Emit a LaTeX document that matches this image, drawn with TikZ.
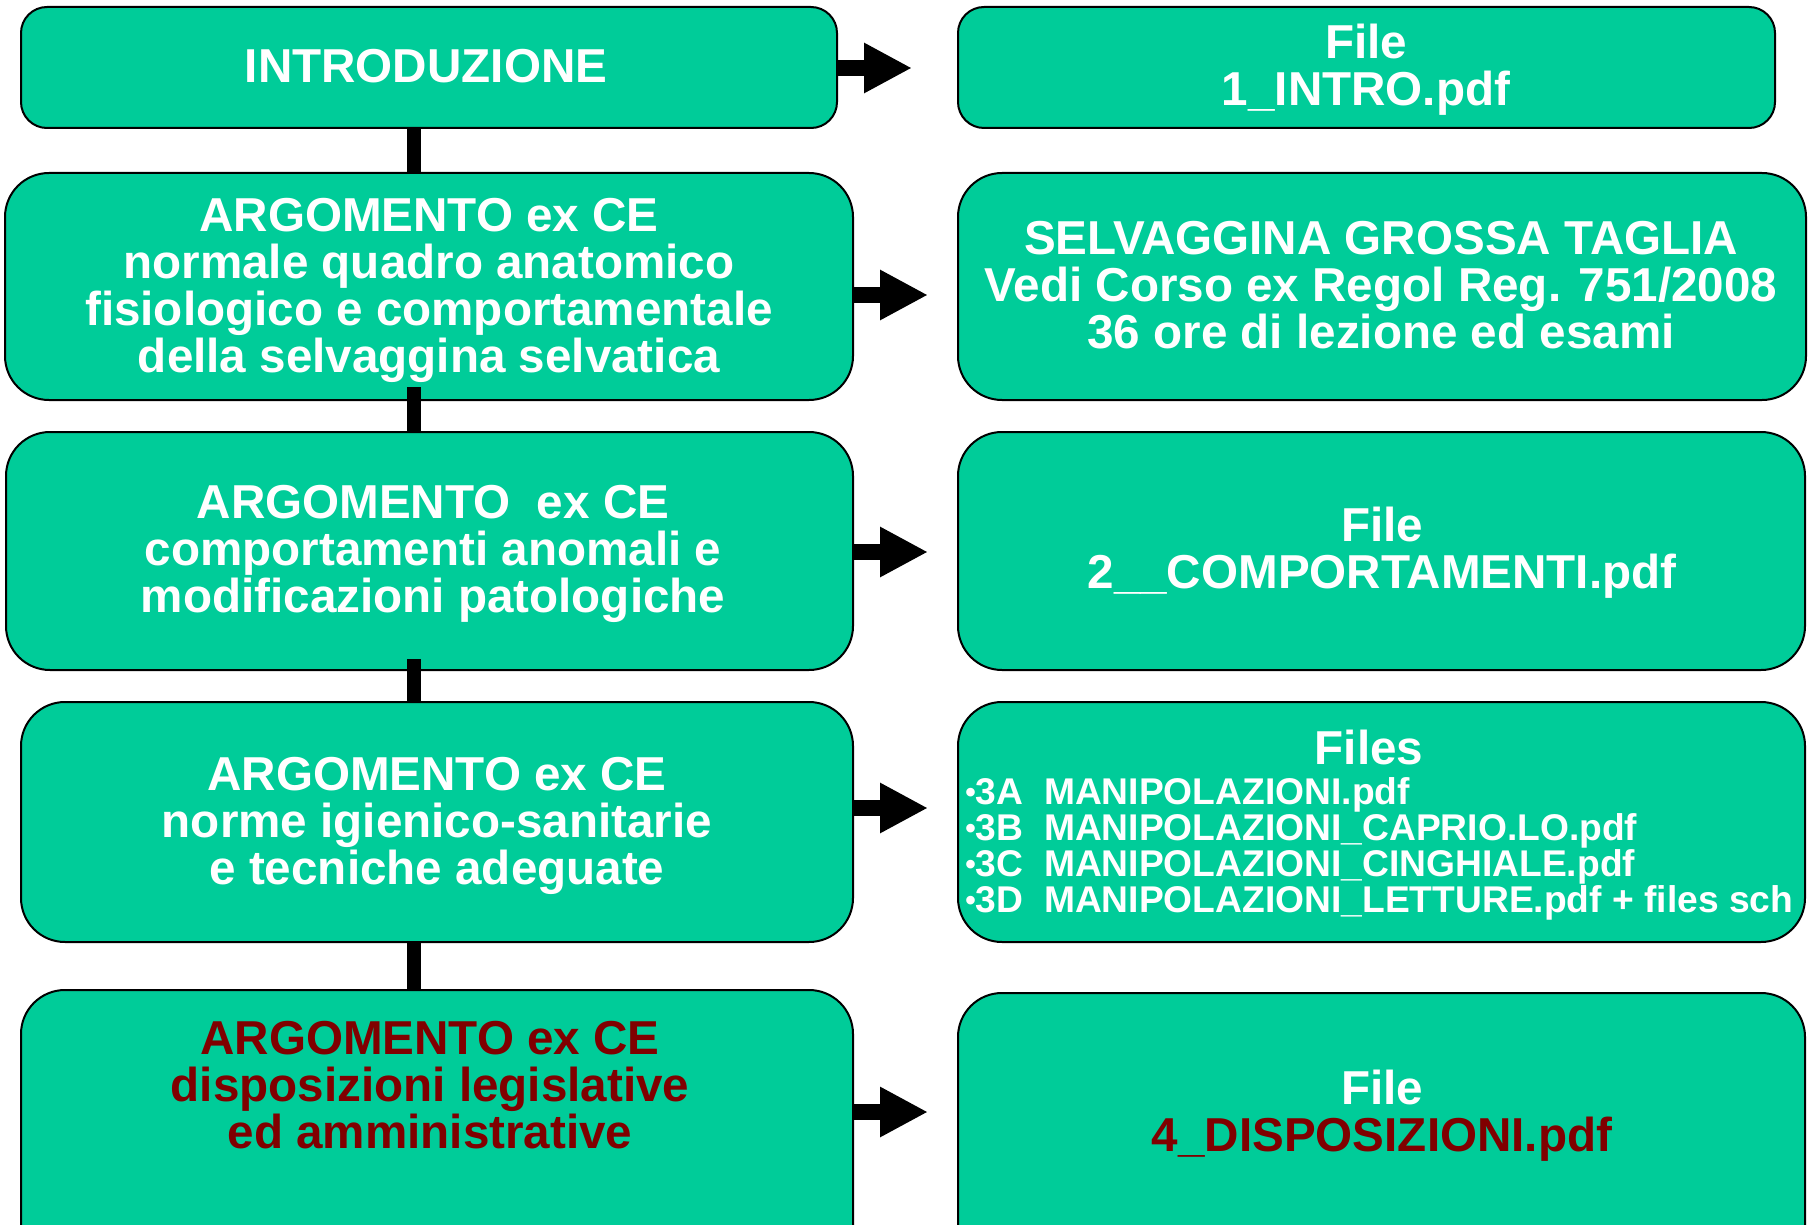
\documentclass[tikz,border=0pt]{standalone}
\usepackage{fontspec}
\setmainfont{Liberation Sans}
\usetikzlibrary{fit,calc,arrows.meta}
\definecolor{boxgreen}{RGB}{0,204,153}
\definecolor{dred}{RGB}{128,0,0}
\newcommand{\bul}{{\fontsize{15}{15}\selectfont\raisebox{1pt}{•}}}
\tikzset{
  box/.style={draw=black, line width=1pt, fill=boxgreen, rounded corners=22pt, inner sep=0pt},
  smallbox/.style={box, rounded corners=13pt},
  txt/.style={text=white, font=\fontsize{23.8}{23.5}\selectfont\bfseries, align=center, inner sep=0pt},
  listtxt/.style={text=white, font=\fontsize{18.6}{18}\selectfont\bfseries, align=left, inner sep=0pt},
  link/.style={line width=7pt, draw=black},
  blockarrow/.style={line width=8pt, draw=black, -{Triangle[length=24pt,width=23.5pt]}}
}
\begin{document}
\begin{tikzpicture}[x=0.5pt,y=-0.5pt]
\useasboundingbox (0,0) rectangle (1814,1225);
\clip (0,0) rectangle (1814,1225);
% left column boxes
\node[smallbox, fit={(21,7) (837,128)}] (L1) {};
\node[box, fit={(5,173) (853,400)}] (L2) {};
\node[box, fit={(6,432) (853,670)}] (L3) {};
\node[box, fit={(21,702) (853,942)}] (L4) {};
\node[box, fit={(21,990) (853,1300)}] (L5) {};
% right column boxes
\node[smallbox, fit={(958,7) (1775,128)}] (R1) {};
\node[box, fit={(958,173) (1806,400)}] (R2) {};
\node[box, fit={(958,432) (1805,670)}] (R3) {};
\node[box, fit={(958,702) (1805,942)}] (R4) {};
\node[box, fit={(958,993) (1805,1300)}] (R5) {};
% texts
\node[txt] (L1t) at (426,66) {INTRODUZIONE};
\node[txt] (L2t) at (429,290) {ARGOMENTO ex CE\\normale quadro anatomico\\fisiologico e comportamentale\\della selvaggina selvatica};
\node[txt] (L3t) at (433,554) {ARGOMENTO\ \ ex CE\\comportamenti anomali e\\modificazioni patologiche};
\node[txt] (L4t) at (437,826) {ARGOMENTO ex CE\\norme igienico-sanitarie\\e tecniche adeguate};
\node[txt, text=dred] (L5t) at (430,1085) {ARGOMENTO ex CE\\disposizioni legislative\\ed amministrative};
\node[txt] (R1t) at (1366,70) {File\\1\_INTRO.pdf};
\node[txt] (R2t) at (1381,285) {SELVAGGINA GROSSA TAGLIA\\Vedi Corso ex Regol Reg. 751/2008\\36 ore di lezione ed esami};
\node[txt] (R3t) at (1382,553) {File\\2\_\_COMPORTAMENTI.pdf};
\node[txt] (R4h) at (1369,747) {Files};
\node[listtxt, anchor=west] (R4l) at (965,849) {\bul3A\ \ MANIPOLAZIONI.pdf\\\bul3B\ \ MANIPOLAZIONI\_CAPRIO.LO.pdf\\\bul3C\ \ MANIPOLAZIONI\_CINGHIALE.pdf\\\bul3D\ \ MANIPOLAZIONI\_LETTURE.pdf + files sch};
\node[txt] (R5t) at (1382,1116) {File\\\textcolor{dred}{4\_DISPOSIZIONI.pdf}};
% vertical connectors
\coordinate (cx) at (414,0);
\draw[link] (L1.south -| cx) -- (L2.north -| cx);
\draw[link] ($(L2.south -| cx)+(0,-14)$) -- (L3.north -| cx);
\draw[link] ($(L3.south -| cx)+(0,-12)$) -- (L4.north -| cx);
\draw[link] (L4.south -| cx) -- (L5.north -| cx);
% block arrows
\coordinate (a1) at (912,68);
\coordinate (a2) at (928,295);
\coordinate (a3) at (928,552);
\coordinate (a4) at (928,808);
\coordinate (a5) at (928,1112);
\draw[blockarrow] (L1.east |- a1) -- (a1);
\draw[blockarrow] (L2.east |- a2) -- (a2);
\draw[blockarrow] (L3.east |- a3) -- (a3);
\draw[blockarrow] (L4.east |- a4) -- (a4);
\draw[blockarrow] (L5.east |- a5) -- (a5);
\end{tikzpicture}
\end{document}
